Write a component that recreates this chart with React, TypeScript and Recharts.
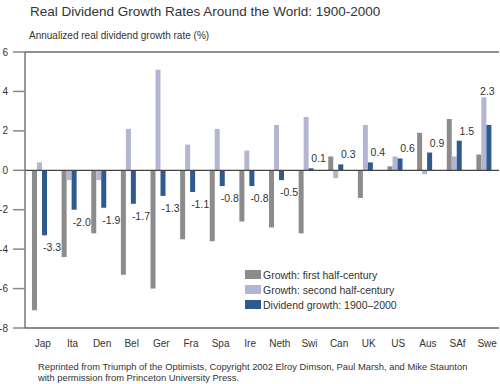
import { Bar, BarChart, ReferenceLine, XAxis, YAxis } from 'recharts';

const countries = ['Jap', 'Ita', 'Den', 'Bel', 'Ger', 'Fra', 'Spa', 'Ire', 'Neth', 'Swi', 'Can', 'UK', 'US', 'Aus', 'SAf', 'Swe'];
const firstHalf = [-7.1, -4.4, -3.2, -5.3, -6.0, -3.5, -3.6, -2.6, -2.9, -3.2, 0.7, -1.4, 0.2, 1.9, 2.6, 0.8];
const secondHalf = [0.4, -0.5, -0.5, 2.1, 5.1, 1.3, 2.1, 1.0, 2.3, 2.7, -0.4, 2.3, 0.7, -0.2, 0.7, 3.7];
const dividendGrowth = [-3.3, -2.0, -1.9, -1.7, -1.3, -1.1, -0.8, -0.8, -0.5, 0.1, 0.3, 0.4, 0.6, 0.9, 1.5, 2.3];
const yTicks = [-8, -6, -4, -2, 0, 2, 4, 6];

const seriesNames = ['Growth: first half-century', 'Growth: second half-century', 'Dividend growth: 1900–2000'];
const seriesColors = ['#8c8c8c', '#b3b6d3', '#2f5a8e'];

const data = countries.map((country, i) => ({
  country,
  first: firstHalf[i],
  second: secondHalf[i],
  dividend: dividendGrowth[i],
}));

const FONT = '"Liberation Sans", Arial, sans-serif';
const W = 500;

// blue bar plus its value label
const DividendBar = (props: any) => {
  const { x, y, width, height, payload, fill } = props;
  const top = Math.min(y, y + height);
  const h = Math.abs(height);
  const v = payload.dividend;
  const neg = v < 0;
  const end = neg ? top + h : top;
  const zero = neg ? top : top + h;
  const ppu = v !== 0 ? h / Math.abs(v) : 0;
  let tx = x + 1;
  let ty = end + 16;
  let anchor = 'start';
  if (!neg) {
    tx = x + width + 5;
    ty = end - 6;
    anchor = 'middle';
    if (tx + 8 > W - 1) {
      const hi = Math.max(payload.first, payload.second, payload.dividend);
      tx = x + 1;
      ty = zero - hi * ppu - 2;
    }
  }
  return (
    <g>
      <rect x={x} y={top} width={width} height={h} fill={fill} />
      <text x={tx} y={ty} textAnchor={anchor} fontSize={10.5} fill="#333" fontFamily={FONT}>
        {v.toFixed(1)}
      </text>
    </g>
  );
};

export default function App() {
  return (
    <div style={{ position: 'absolute', left: 0, top: 0, width: W, height: 384, background: '#fff', fontFamily: FONT }}>
      <div style={{ position: 'absolute', left: 30, top: 4, fontSize: 13.5, color: '#333', whiteSpace: 'nowrap' }}>
        Real Dividend Growth Rates Around the World: 1900-2000
      </div>
      <div style={{ position: 'absolute', left: 29, top: 30, fontSize: 10, color: '#333', whiteSpace: 'nowrap' }}>
        Annualized real dividend growth rate (%)
      </div>
      <BarChart
        width={W}
        height={384}
        data={data}
        margin={{ top: 52, right: 1, left: 0, bottom: 36 }}
        barCategoryGap="25%"
        barGap={0}
      >
        <XAxis
          dataKey="country"
          tickLine={false}
          tickSize={0}
          tickMargin={12}
          dx={3}
          axisLine={{ stroke: '#666', strokeWidth: 1.5 }}
          tick={{ fontSize: 10, fill: '#333', fontFamily: FONT }}
          interval={0}
          height={20}
        />
        <YAxis
          domain={[-8, 6]}
          ticks={yTicks}
          width={25}
          tickSize={12}
          tickMargin={5}
          axisLine={{ stroke: '#555', strokeWidth: 1.2 }}
          tickLine={{ stroke: '#888', strokeWidth: 1.5 }}
          tick={{ fontSize: 10, fill: '#333', fontFamily: FONT }}
          interval={0}
        />
        <YAxis
          yAxisId="frame"
          orientation="right"
          width={0}
          tick={false}
          tickLine={false}
          axisLine={{ stroke: '#777', strokeWidth: 1.2 }}
        />
        <ReferenceLine y={6} stroke="#222" strokeWidth={1.2} />
        <ReferenceLine y={0} stroke="#444" strokeWidth={1.2} />
        <Bar dataKey="first" fill={seriesColors[0]} barSize={5} isAnimationActive={false} />
        <Bar dataKey="second" fill={seriesColors[1]} barSize={5} isAnimationActive={false} />
        <Bar dataKey="dividend" fill={seriesColors[2]} barSize={5} isAnimationActive={false} shape={DividendBar} />
      </BarChart>
      <div style={{ position: 'absolute', left: 245, top: 267 }}>
        {seriesNames.map((name, i) => (
          <div key={name} style={{ display: 'flex', alignItems: 'center', height: 15 }}>
            <span style={{ width: 16, height: 9, background: seriesColors[i], marginRight: 2 }} />
            <span style={{ fontSize: 10.5, color: '#333', whiteSpace: 'nowrap' }}>{name}</span>
          </div>
        ))}
      </div>
      <div style={{ position: 'absolute', left: 38, top: 362, fontSize: 9.4, color: '#333', lineHeight: '10.5px', whiteSpace: 'nowrap' }}>
        Reprinted from Triumph of the Optimists, Copyright 2002 Elroy Dimson, Paul Marsh, and Mike Staunton
        <br />
        with permission from Princeton University Press.
      </div>
    </div>
  );
}
